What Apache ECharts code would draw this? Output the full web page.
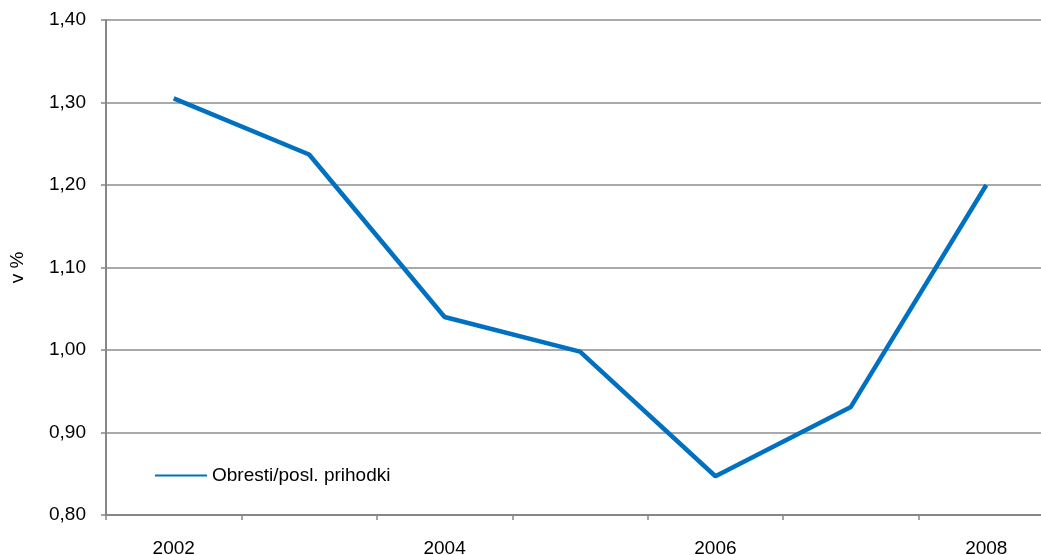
<!DOCTYPE html>
<html lang="sl">
<head>
    <meta charset="UTF-8">
    <title>Obresti/posl. prihodki</title>
</head>
<body style="margin:0;">
<div id="chart" style="width:1041px;height:555px;"></div>
<script src="https://cdn.jsdelivr.net/npm/echarts@6/dist/echarts.min.js"></script>
<script type="text/javascript">
    const years = ['2002', '2003', '2004', '2005', '2006', '2007', '2008'];
    const obresti = [1.305, 1.237, 1.040, 0.998, 0.847, 0.931, 1.200];
    const seriesName = 'Obresti/posl. prihodki';

    const chart = echarts.init(document.getElementById('chart'));
    const font = 'Liberation Sans, Arial, sans-serif';

    chart.setOption({
        animation: false,
        grid: { left: 106, right: -13, top: 20, bottom: 40, outerBoundsMode: 'none', containLabel: false },
        legend: {
            left: 150, top: 461,
            itemWidth: 52, itemHeight: 2, itemGap: 5,
            textStyle: { fontFamily: font, fontSize: 19, color: '#000' },
            data: [{ name: seriesName, icon: 'rect' }]
        },
        xAxis: {
            type: 'category',
            data: years,
            boundaryGap: true,
            axisLine: { lineStyle: { color: '#868686', width: 2 } },
            axisTick: { show: true, interval: 0, length: 5, lineStyle: { color: '#868686', width: 1.5 } },
            axisLabel: { interval: 1, margin: 24, fontFamily: font, fontSize: 19, color: '#000' }
        },
        yAxis: {
            type: 'value',
            min: 0.8, max: 1.4, interval: 0.1,
            name: 'v %',
            nameLocation: 'middle',
            nameRotate: 90,
            nameGap: 79,
            nameTextStyle: { fontFamily: font, fontSize: 19, color: '#000' },
            axisLine: { show: true, lineStyle: { color: '#868686', width: 2 } },
            axisTick: { show: true, length: 5, lineStyle: { color: '#868686', width: 1.5 } },
            splitLine: { lineStyle: { color: '#8c8c8c', width: 1.5 } },
            axisLabel: {
                margin: 20, fontFamily: font, fontSize: 19, color: '#000',
                formatter: v => v.toFixed(2).replace('.', ',')
            }
        },
        series: [{
            name: seriesName,
            type: 'line',
            data: obresti,
            symbol: 'none',
            lineStyle: { color: '#0070c0', width: 4.5 },
            itemStyle: { color: '#0070c0' }
        }]
    });
</script>
</body>
</html>
